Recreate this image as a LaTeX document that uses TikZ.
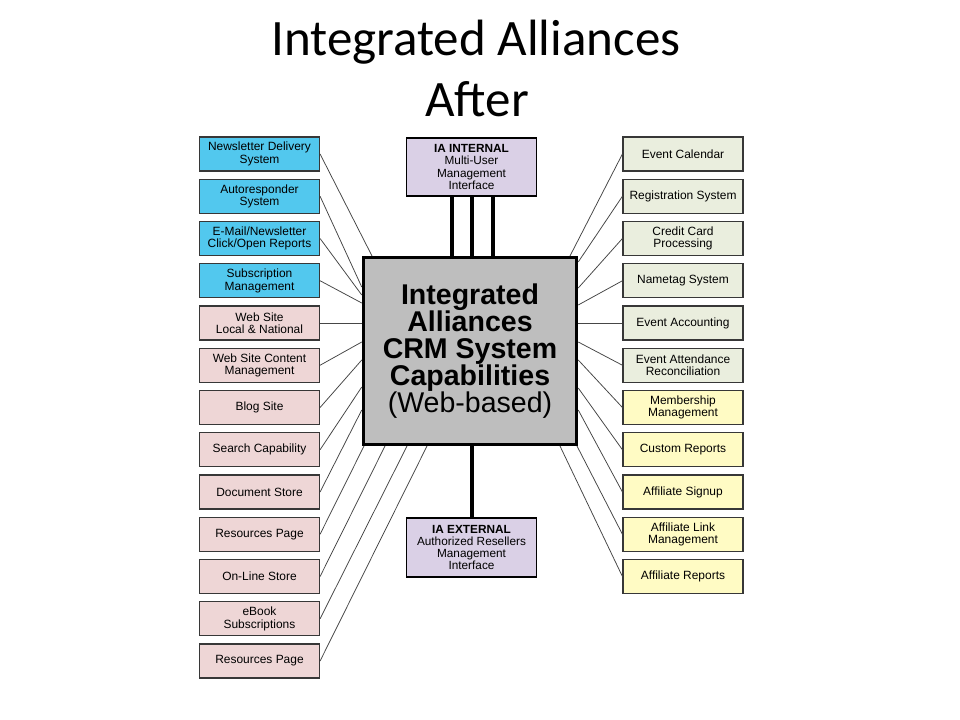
\documentclass[tikz,border=0pt]{standalone}
\usepackage{fontspec}
\setmainfont{Liberation Sans}
\newfontfamily\titlefont{Carlito}
\usetikzlibrary{calc}
\definecolor{bluebox}{RGB}{82,200,238}
\definecolor{pinkbox}{RGB}{238,214,214}
\definecolor{greenbox}{RGB}{234,238,222}
\definecolor{yellowbox}{RGB}{255,251,196}
\definecolor{purplebox}{RGB}{218,208,230}
\definecolor{graybox}{RGB}{190,190,190}
\definecolor{boxline}{RGB}{55,55,55}
\definecolor{connline}{RGB}{70,70,70}
\begin{document}
\begin{tikzpicture}[x=0.025cm,y=-0.025cm,
  box/.style={draw=boxline, line width=0.8pt, minimum width=3cm, minimum height=0.85cm,
    inner sep=0pt, align=center, font=\fontsize{8.5}{8.9}\selectfont},
  lbox/.style={box, fill=bluebox},
  pbox/.style={box, fill=pinkbox},
  gbox/.style={box, fill=greenbox},
  ybox/.style={box, fill=yellowbox},
  iabox/.style={draw=black, line width=1.3pt, fill=purplebox, minimum width=3.25cm,
    minimum height=1.47cm, inner sep=0pt, align=center, font=\fontsize{8.4}{8.6}\selectfont},
  centerbox/.style={draw=black, line width=2.3pt, fill=graybox, minimum width=5.33cm,
    minimum height=4.67cm, inner sep=0pt, align=center, font=\fontsize{20.3}{19.3}\selectfont},
  conn/.style={draw=connline, line width=0.55pt},
  bar/.style={draw=black, line width=2.2pt},
  titletext/.style={font=\titlefont\fontsize{36.3}{43}\selectfont, anchor=base, inner sep=0pt}
]
\useasboundingbox (0,0) rectangle (960,720);

% title
\node[titletext] (T1) at (476,56) {Integrated Alliances};
\node[titletext] (T2) at (477,117) {After};

% center
\node[centerbox] (C) at (470,351) {\textbf{Integrated}\\\textbf{Alliances}\\\textbf{CRM System}\\\textbf{Capabilities}\\(Web-based)};

% top / bottom interface boxes
\node[iabox] (I) at (471.5,167) {\textbf{IA INTERNAL}\\Multi-User\\Management\\Interface};
\node[iabox] (E) at (471.5,547.5) {\textbf{IA EXTERNAL}\\Authorized Resellers\\Management\\Interface};

\draw[bar] (I.south -| 452,0) -- (C.north -| 452,0);
\draw[bar] (I.south -| 472,0) -- (C.north -| 472,0);
\draw[bar] (I.south -| 493,0) -- (C.north -| 493,0);
\draw[bar] (C.south -| 472,0) -- (E.north -| 472,0);

% left boxes
\node[lbox] (L1) at (259.5,154) {Newsletter Delivery\\System};
\node[lbox] (L2) at (259.5,196.25) {Autoresponder\\System};
\node[lbox] (L3) at (259.5,238.5) {E-Mail/Newsletter\\Click/Open Reports};
\node[lbox] (L4) at (259.5,280.75) {Subscription\\Management};
\node[pbox] (L5) at (259.5,323) {Web Site\\Local \& National};
\node[pbox] (L6) at (259.5,365.25) {Web Site Content\\Management};
\node[pbox] (L7) at (259.5,407.5) {Blog Site};
\node[pbox] (L8) at (259.5,449.75) {Search Capability};
\node[pbox] (L9) at (259.5,492) {Document Store};
\node[pbox] (L10) at (259.5,534.25) {Resources Page};
\node[pbox] (L11) at (259.5,576.5) {On-Line Store};
\node[pbox] (L12) at (259.5,618.75) {eBook\\Subscriptions};
\node[pbox] (L13) at (259.5,661) {Resources Page};

% right boxes
\node[gbox] (R1) at (683,154) {Event Calendar};
\node[gbox] (R2) at (683,196.25) {Registration System};
\node[gbox] (R3) at (683,238.5) {Credit Card\\Processing};
\node[gbox] (R4) at (683,280.75) {Nametag System};
\node[gbox] (R5) at (683,323) {Event Accounting};
\node[gbox] (R6) at (683,365.25) {Event Attendance\\Reconciliation};
\node[ybox] (R7) at (683,407.5) {Membership\\Management};
\node[ybox] (R8) at (683,449.75) {Custom Reports};
\node[ybox] (R9) at (683,492) {Affiliate Signup};
\node[ybox] (R10) at (683,534.25) {Affiliate Link\\Management};
\node[ybox] (R11) at (683,576.5) {Affiliate Reports};

% left connectors
\draw[conn] (L1.east) -- (C.north -| 372,0);
\draw[conn] (L2.east) -- (C.west |- 0,287);
\draw[conn] (L3.east) -- (C.west |- 0,295);
\draw[conn] (L4.east) -- (C.west |- 0,303);
\draw[conn] (L5.east) -- (C.west |- 0,323);
\draw[conn] (L6.east) -- (C.west |- 0,342);
\draw[conn] (L7.east) -- (C.west |- 0,360);
\draw[conn] (L8.east) -- (C.west |- 0,387);
\draw[conn] (L9.east) -- (C.west |- 0,410);
\draw[conn] (L10.east) -- (C.south -| 364,0);
\draw[conn] (L11.east) -- (C.south -| 385,0);
\draw[conn] (L12.east) -- (C.south -| 407,0);
\draw[conn] (L13.east) -- (C.south -| 427,0);

% right connectors
\draw[conn] (R1.west) -- (C.north -| 570,0);
\draw[conn] (R2.west) -- (C.east |- 0,262);
\draw[conn] (R3.west) -- (C.east |- 0,288);
\draw[conn] (R4.west) -- (C.east |- 0,305);
\draw[conn] (R5.west) -- (C.east |- 0,323);
\draw[conn] (R6.west) -- (C.east |- 0,342);
\draw[conn] (R7.west) -- (C.east |- 0,360);
\draw[conn] (R8.west) -- (C.east |- 0,388);
\draw[conn] (R9.west) -- (C.east |- 0,410);
\draw[conn] (R10.west) -- (C.south -| 577,0);
\draw[conn] (R11.west) -- (C.south -| 560,0);
\end{tikzpicture}
\end{document}
